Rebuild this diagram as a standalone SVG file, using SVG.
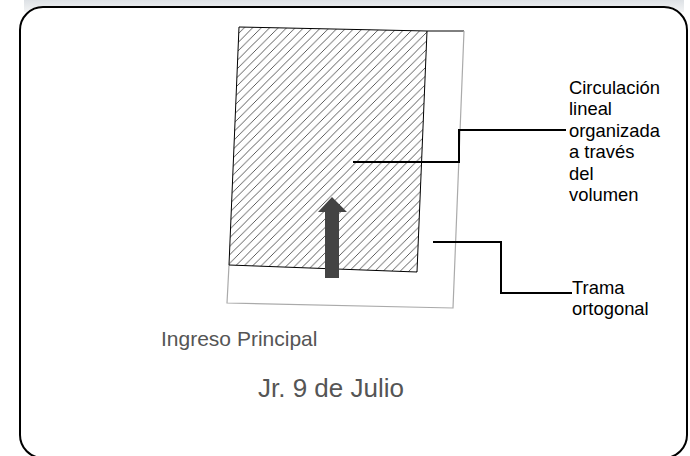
<svg xmlns="http://www.w3.org/2000/svg" width="690" height="456" viewBox="0 0 690 456">
  <style>
    .lbl { font-family: "Liberation Sans", Arial, sans-serif; font-size: 18.4px; fill: #000; }
    .gray { font-family: "Liberation Sans", Arial, sans-serif; fill: #555; }
    .leader { fill: none; stroke: #000; stroke-width: 2; }
  </style>
  <defs>
    <linearGradient id="topbg" x1="0" y1="0" x2="0" y2="1">
      <stop offset="0" stop-color="#dde1e5"/>
      <stop offset="1" stop-color="#f3f4f5"/>
    </linearGradient>
    <pattern id="hatch" patternUnits="userSpaceOnUse" width="8.5" height="8.5">
      <path d="M0,8.5 L8.5,0 M-2,2 L2,-2 M6.5,10.5 L10.5,6.5" stroke="#333" stroke-width="0.8"/>
    </pattern>
  </defs>
  <rect x="0" y="0" width="690" height="456" fill="#fff"/>
  <rect x="24" y="0" width="660" height="12" fill="url(#topbg)"/>
  <rect id="frame" x="20" y="7" width="667" height="451" rx="23" ry="23" fill="#fff" stroke="#000" stroke-width="2"/>

  <g id="site">
    <polyline points="427,31 464,31" fill="none" stroke="#000" stroke-width="1"/>
    <polyline points="464,31 453,308 227,303 229,265" fill="none" stroke="#aaa" stroke-width="1.2"/>
  </g>
  <g id="volume">
    <polygon points="239,27 427,31 417,272 229,265" fill="url(#hatch)" stroke="#000" stroke-width="1"/>
  </g>
  <g id="entry-arrow">
    <polygon points="332,197 347,212 339,212 339,278 325,278 325,212 318,212" fill="#444"/>
  </g>

  <g id="connectors">
    <polyline class="leader" points="353,162 459,162 459,130 566,130"/>
    <polyline class="leader" points="433,242 501,242 501,293 572,293"/>
  </g>

  <g id="label-circulacion">
    <text class="lbl" x="569" y="94">Circulación</text>
    <text class="lbl" x="569" y="115.4">lineal</text>
    <text class="lbl" x="569" y="136.8">organizada</text>
    <text class="lbl" x="569" y="158.2">a través</text>
    <text class="lbl" x="569" y="179.6">del</text>
    <text class="lbl" x="569" y="201">volumen</text>
  </g>
  <g id="label-trama">
    <text class="lbl" x="572" y="294">Trama</text>
    <text class="lbl" x="572" y="315">ortogonal</text>
  </g>
  <g id="label-ingreso">
    <text class="gray" x="161" y="346" font-size="21">Ingreso Principal</text>
  </g>
  <g id="label-street">
    <text class="gray" x="258" y="397" font-size="26">Jr. 9 de Julio</text>
  </g>
</svg>
